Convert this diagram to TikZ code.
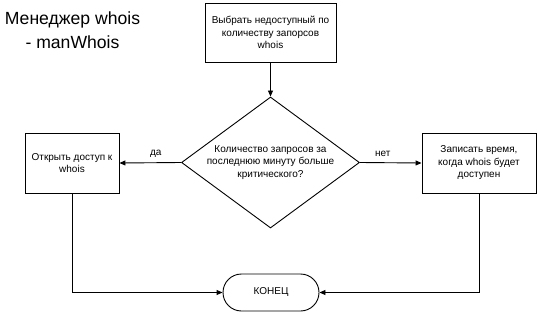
\documentclass[tikz,border=0pt]{standalone}
\usepackage{fontspec}
\setmainfont{Liberation Sans}
\usetikzlibrary{shapes.geometric,shapes.misc,arrows.meta}
\begin{document}
\begin{tikzpicture}[x=1pt,y=-1pt,
  every node/.style={font=\fontsize{10}{12.5}\selectfont},
  box/.style={draw,line width=0.9pt,inner sep=0pt,align=center},
  decision/.style={draw,diamond,line width=0.9pt,inner sep=0pt,minimum width=178pt,minimum height=131pt},
  terminal/.style={draw,rounded rectangle,line width=0.9pt,inner sep=0pt,minimum width=96pt,minimum height=37pt},
  caption/.style={align=center,inner sep=0pt},
  titletext/.style={align=center,inner sep=0pt,font=\fontsize{17.6}{24}\selectfont},
  arr/.style={line width=0.9pt,-{Triangle[length=6pt,width=5pt]}},
  lbl/.style={inner sep=0pt}
]
\useasboundingbox (0,0) rectangle (538,313);
\node[titletext] (title) at (72.5,30) {Менеджер whois\\- manWhois};
\node[box,minimum width=131pt,minimum height=59pt] (choose) at (270.5,32.5) {Выбрать недоступный по\\количеству запорсов\\whois};
\node[decision] (dec) at (270.5,162.5) {};
\node[caption] (dectext) at (dec.center) {Количество запросов за\\последнюю минуту больше\\критического?};
\node[box,minimum width=94pt,minimum height=60pt] (opn) at (72,163) {Открыть доступ к\\whois};
\node[box,minimum width=114pt,minimum height=60pt] (rec) at (479,163) {Записать время,\\когда whois будет\\доступен};
\node[terminal] (end) at (271,292.5) {КОНЕЦ};
\draw[arr] (choose) -- (dec);
\draw[arr] (dec.west) -- node[lbl,pos=0.41,yshift=9pt]{да} (opn.east);
\draw[arr] (dec.east) -- node[lbl,pos=0.37,yshift=9pt]{нет} (rec.west);
\draw[arr] (opn.south) |- (end.west);
\draw[arr] (rec.south) |- (end.east);
\end{tikzpicture}
\end{document}
